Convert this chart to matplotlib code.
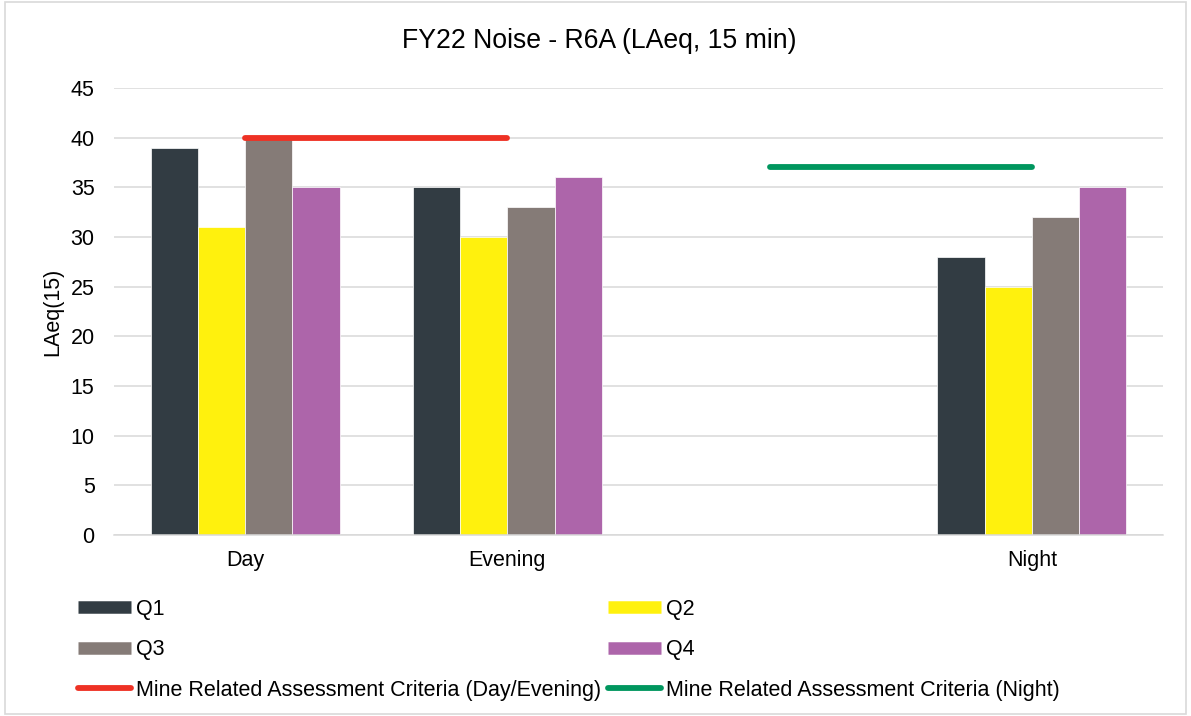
import numpy as np
import matplotlib
matplotlib.use("Agg")
import matplotlib.pyplot as plt
from matplotlib.lines import Line2D
from matplotlib.patches import Rectangle

plt.rcParams['font.family'] = ['Liberation Sans', 'DejaVu Sans']

# data
categories = ['Day', 'Evening', '', 'Night']
q1 = [39, 35, np.nan, 28]
q2 = [31, 30, np.nan, 25]
q3 = [40, 33, np.nan, 32]
q4 = [35, 36, np.nan, 35]
criteria_day_evening = [40, 40, np.nan, np.nan]
criteria_night = [np.nan, np.nan, 37, 37]
y_ticks = [0, 5, 10, 15, 20, 25, 30, 35, 40, 45]

series = [('Q1', q1, '#323C43'), ('Q2', q2, '#FFF10D'),
          ('Q3', q3, '#857B77'), ('Q4', q4, '#AD65AA')]
red = '#EE3124'
green = '#00965E'

fig = plt.figure(figsize=(11.91, 7.16), dpi=100)
ax = fig.add_axes([114 / 1191, 1 - 535 / 716, (1163 - 114) / 1191, (535 - 88) / 716])

x = np.arange(len(categories))
w = 0.18
for i, (name, vals, col) in enumerate(series):
    ax.bar(x + (i - 1.5) * w, vals, w, color=col, edgecolor='white', linewidth=0.5, zorder=2)

ax.plot(x, criteria_day_evening, color=red, lw=4.2, solid_capstyle='round', zorder=3)
ax.plot(x, criteria_night, color=green, lw=4.2, solid_capstyle='round', zorder=3)

ax.set_xlim(-0.5, len(categories) - 0.5)
ax.set_ylim(0, 45)
ax.set_yticks(y_ticks)
ax.set_xticks(x)
ax.set_xticklabels(categories, fontsize=15.5)
ax.tick_params(axis='y', labelsize=15.5, length=0, pad=14)
ax.tick_params(axis='x', length=0, pad=10.5)
ax.grid(axis='y', color='#D9D9D9', linewidth=1.1, zorder=0)
ax.set_axisbelow(True)
for s in ['top', 'right', 'left']:
    ax.spines[s].set_visible(False)
ax.spines['bottom'].set_color('#D9D9D9')
ax.spines['bottom'].set_linewidth(1.1)

ax.set_ylabel('LAeq(15)', fontsize=15.5)
ax.yaxis.set_label_coords(-0.048, 0.5)

fig.text(599.5 / 1191, 1 - 41 / 716, 'FY22 Noise - R6A (LAeq, 15 min)', ha='center', va='center', fontsize=19.2)

# legend, Excel fills rows first so reorder for matplotlib's column fill
h = {}
for name, vals, col in series:
    h[name] = Line2D([], [], color=col, lw=9, solid_capstyle='butt')
h['red'] = Line2D([], [], color=red, lw=4.2, solid_capstyle='round')
h['green'] = Line2D([], [], color=green, lw=4.2, solid_capstyle='round')
handles = [h['Q1'], h['Q3'], h['red'], h['Q2'], h['Q4'], h['green']]
labels = ['Q1', 'Q3', 'Mine Related Assessment Criteria (Day/Evening)',
          'Q2', 'Q4', 'Mine Related Assessment Criteria (Night)']
fig.legend(handles, labels, loc='upper left', bbox_to_anchor=(78 / 1191, 1 - 599 / 716),
           ncol=2, frameon=False, fontsize=15.5, handlelength=2.47, handletextpad=0.23,
           columnspacing=0.3, labelspacing=0.9, borderpad=0, borderaxespad=0)

# light frame around the whole chart
fig.patches.append(Rectangle((0.004, 0.003), 0.992, 0.994, transform=fig.transFigure,
                             fill=False, edgecolor='#D9D9D9', linewidth=1.2))

fig.savefig('out.png', dpi=100)
